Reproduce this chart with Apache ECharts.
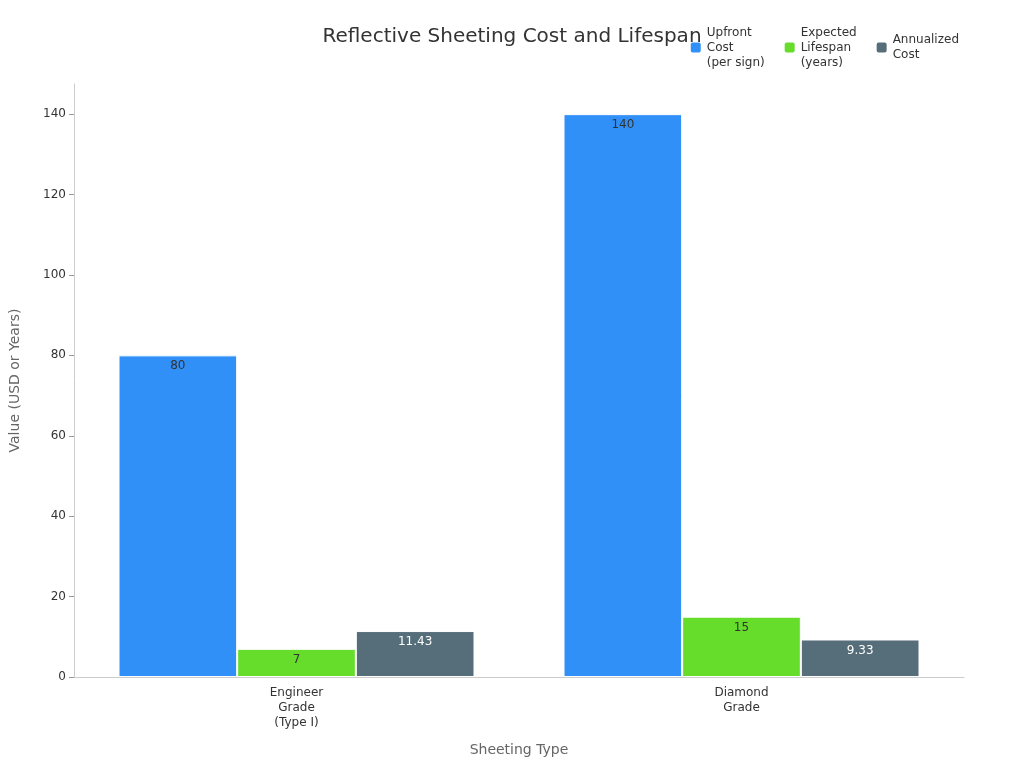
<!DOCTYPE html>
<html><head><meta charset="utf-8">
<script src="https://cdn.jsdelivr.net/npm/echarts@6/dist/echarts.min.js"></script>
<style>html,body{margin:0;padding:0;background:#fff}#c{width:1024px;height:768px}</style>
</head><body><div id="c"></div>
<script>
const categories = ['Engineer\nGrade\n(Type I)', 'Diamond\nGrade'];
const upfrontCost = [80, 140];
const lifespan = [7, 15];
const annualizedCost = [11.43, 9.33];
const seriesNames = ['Upfront\nCost\n(per sign)', 'Expected\nLifespan\n(years)', 'Annualized\nCost'];

const chart = echarts.init(document.getElementById('c'));
const font = 'DejaVu Sans';
function mk(name, data, color, labelColor) {
  return {
    name, type: 'bar', data, barGap: '0%', barCategoryGap: '20%',
    itemStyle: { color, borderColor: '#fff', borderWidth: 1 },
    label: { show: true, position: 'insideTop', color: labelColor, fontSize: 12, fontFamily: font }
  };
}
chart.setOption({
  textStyle: { fontFamily: font },
  title: { text: 'Reflective Sheeting Cost and Lifespan', left: 'center', top: 22,
    textStyle: { fontSize: 20, fontWeight: 'normal', color: '#333', fontFamily: font } },
  legend: { top: 20, right: 60, itemWidth: 12, itemHeight: 12, itemGap: 18,
    textStyle: { fontSize: 12, color: '#333', fontFamily: font, lineHeight: 15 } },
  grid: { left: 68, right: 60, top: 84, bottom: 91 },
  xAxis: { type: 'category', data: categories, name: 'Sheeting Type', nameLocation: 'middle', nameGap: 66,
    nameTextStyle: { fontSize: 14, color: '#666' },
    axisLine: { lineStyle: { color: '#ccc' } }, axisTick: { alignWithLabel: true, lineStyle: { color: '#999' } },
    axisLabel: { color: '#333', fontSize: 12, lineHeight: 15 } },
  yAxis: { type: 'value', min: 0, max: 147.5, interval: 20, name: 'Value (USD or Years)', nameLocation: 'middle', nameGap: 52,
    nameTextStyle: { fontSize: 14, color: '#666' },
    axisLine: { show: true, lineStyle: { color: '#ccc' } }, axisTick: { show: true, lineStyle: { color: '#999' } },
    splitLine: { show: false },
    axisLabel: { color: '#333', fontSize: 12, showMaxLabel: false } },
  series: [
    mk(seriesNames[0], upfrontCost, '#3090F8', '#333'),
    mk(seriesNames[1], lifespan, '#66DD2A', '#333'),
    mk(seriesNames[2], annualizedCost, '#566E7A', '#fff')
  ]
});
</script></body></html>
